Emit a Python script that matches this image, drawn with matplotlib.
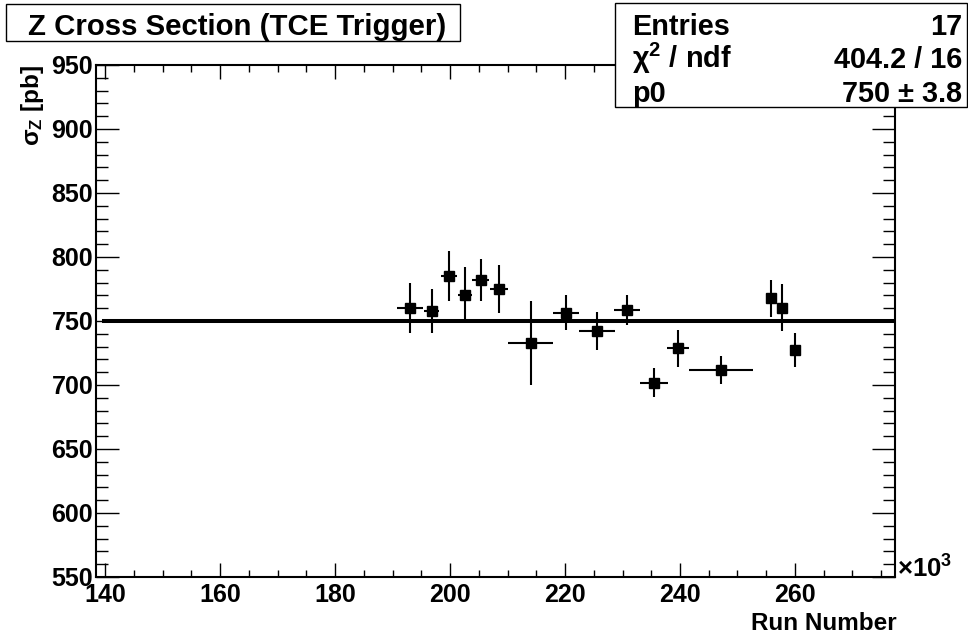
import matplotlib
matplotlib.use("Agg")
import matplotlib.pyplot as plt
from matplotlib.patches import Rectangle
from matplotlib.ticker import MultipleLocator

plt.rcParams['font.family'] = ['Liberation Sans', 'DejaVu Sans']
plt.rcParams['font.weight'] = 'bold'
plt.rcParams['mathtext.fontset'] = 'custom'
plt.rcParams['mathtext.rm'] = 'Liberation Sans'
plt.rcParams['mathtext.it'] = 'Liberation Sans:italic'
plt.rcParams['mathtext.bf'] = 'Liberation Sans:bold'

# data (run number in units of 10^3)
run = [193.0, 196.8, 199.8, 202.6, 205.3, 208.5, 214.0, 220.2,
       225.6, 230.8, 235.5, 239.6, 247.1, 255.8, 257.8, 260.0]
run_err = [2.3, 1.3, 1.4, 1.2, 1.5, 1.5, 3.9, 2.3,
           3.1, 2.2, 2.4, 1.9, 5.6, 0.6, 0.6, 0.6]
sigma = [759.9, 757.8, 785.2, 770.3, 782.0, 774.8, 733.0, 756.5,
         742.2, 758.6, 701.8, 728.6, 711.7, 767.7, 760.4, 727.3]
sigma_err = [19.5, 17.2, 19.5, 22.0, 16.5, 18.6, 33.0, 13.9,
             14.6, 11.7, 11.3, 14.3, 10.7, 14.6, 18.2, 13.3]

p0 = 750
fit_range = [139.8, 276.9]
stat_names = ['Entries', r'$\mathrm{\chi}^{\mathbf{2}}$ / ndf', 'p0']
stat_values = ['17', '404.2 / 16', r'750 $\mathrm{\pm}$ 3.8']

fig = plt.figure(figsize=(9.68, 6.39), dpi=100)
ax = fig.add_axes([96 / 968, 62 / 639, 799 / 968, 512 / 639])

ax.plot(fit_range, [p0, p0], color='black', lw=2.9, zorder=2)
ax.errorbar(run, sigma, xerr=run_err, yerr=sigma_err, fmt='s', color='black',
            ms=7.5, elinewidth=1.5, capsize=0, zorder=3)

ax.set_xlim(138.4, 277.4)
ax.set_ylim(550, 950)
ax.xaxis.set_major_locator(MultipleLocator(20))
ax.xaxis.set_minor_locator(MultipleLocator(5))
ax.yaxis.set_major_locator(MultipleLocator(50))
ax.yaxis.set_minor_locator(MultipleLocator(10))
ax.tick_params(axis='both', which='both', direction='in', top=True, right=True,
               width=1.0, labelsize=18)
ax.tick_params(axis='x', which='major', length=10, pad=4)
ax.tick_params(axis='x', which='minor', length=5)
ax.tick_params(axis='y', which='major', length=16.5, pad=2)
ax.tick_params(axis='y', which='minor', length=8.6)
for lab in ax.get_xticklabels() + ax.get_yticklabels():
    lab.set_fontweight('bold')
for sp in ax.spines.values():
    sp.set_linewidth(1.5)

fig.text(897 / 968, 1 - 578 / 639, r'$\mathrm{\times}\mathbf{10^{3}}$', fontsize=18.5,
         ha='left', va='baseline')
fig.text(897 / 968, 1 - 630 / 639, 'Run Number', fontsize=17.5,
         ha='right', va='baseline')
fig.text(33 / 968, 1 - 65 / 639, r'$\mathrm{\sigma_{Z}}$ [pb]', fontsize=17.5,
         rotation=90, ha='center', va='top')

# title box
fig.add_artist(Rectangle((6 / 968, 1 - 41 / 639), 454 / 968, 37 / 639,
                         transform=fig.transFigure, facecolor='white',
                         edgecolor='black', lw=1.0, zorder=5))
fig.text(28 / 968, 1 - 35 / 639, 'Z Cross Section (TCE Trigger)', fontsize=21.2,
         ha='left', va='baseline', zorder=6)

# stats box
fig.add_artist(Rectangle((615 / 968, 1 - 107 / 639), 352 / 968, 104 / 639,
                         transform=fig.transFigure, facecolor='white',
                         edgecolor='black', lw=1.0, zorder=5))
for i, (nm, val) in enumerate(zip(stat_names, stat_values)):
    yb = 1 - (35 + 33.5 * i) / 639
    fig.text(632 / 968, yb, nm, fontsize=20.8, ha='left', va='baseline', zorder=6)
    fig.text(962 / 968, yb, val, fontsize=20.8, ha='right', va='baseline', zorder=6)

fig.savefig('out.png', dpi=100)
